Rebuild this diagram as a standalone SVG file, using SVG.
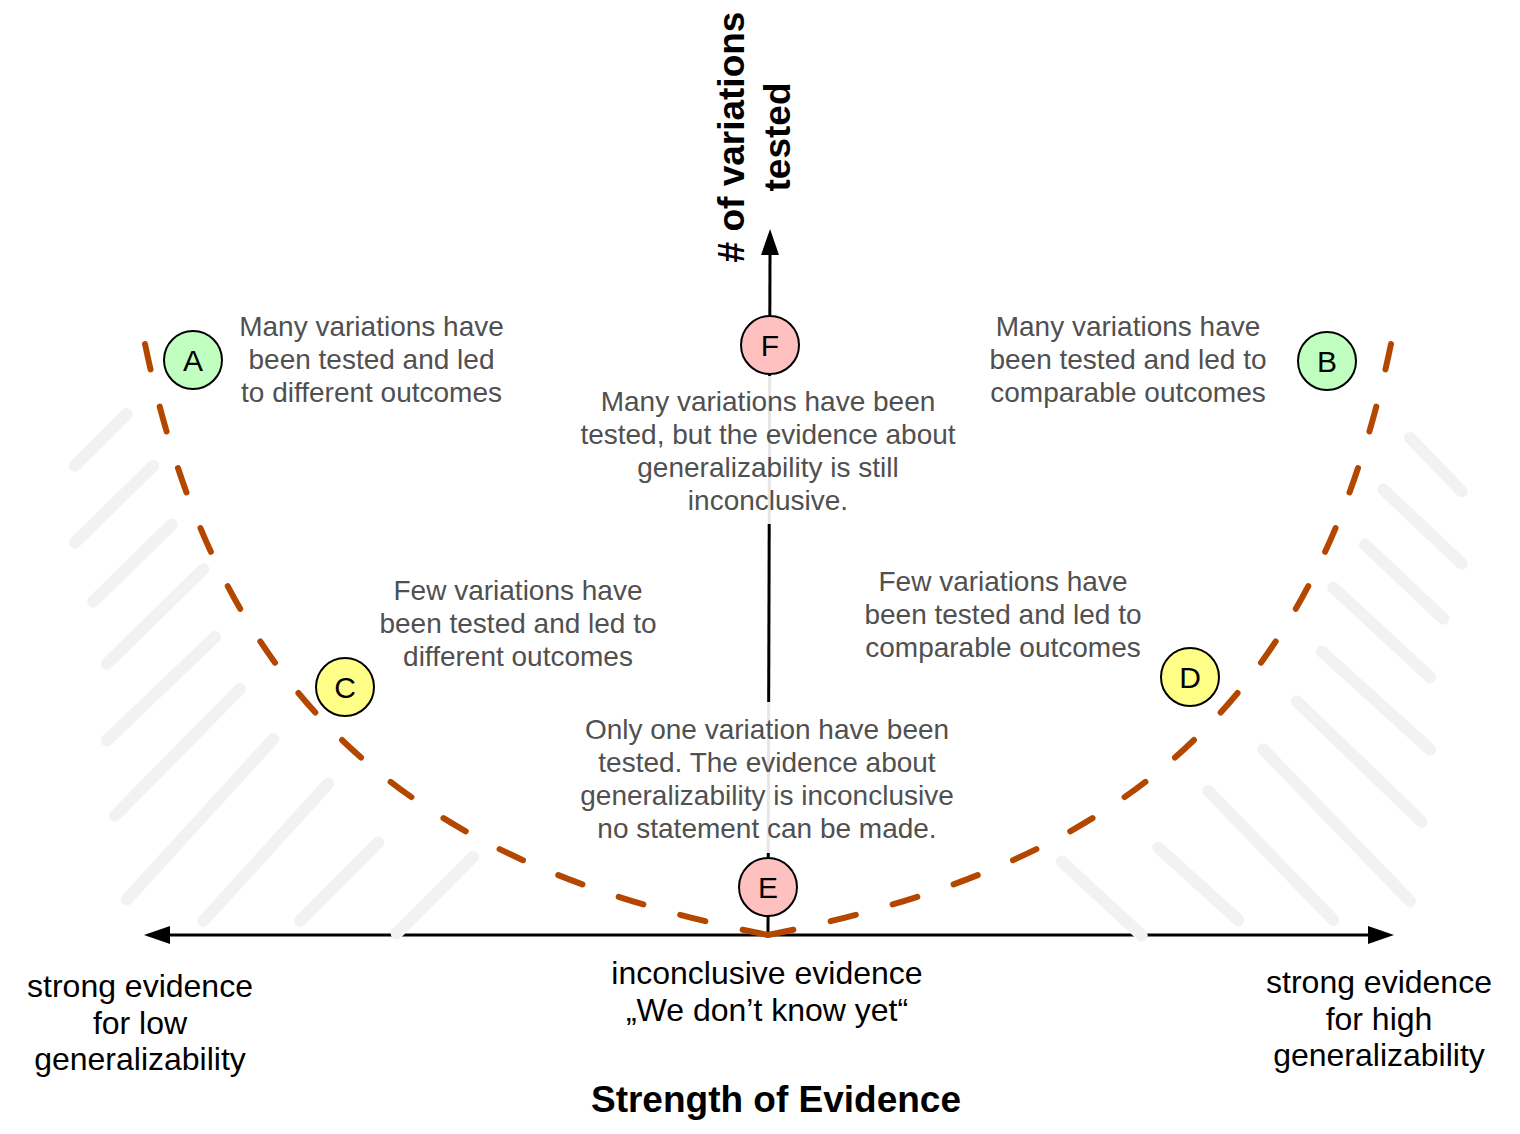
<svg xmlns="http://www.w3.org/2000/svg" width="1520" height="1134" viewBox="0 0 1520 1134">
<defs>
<style>
.hatch{stroke:#f2f2f2;stroke-width:12;stroke-linecap:round;fill:none}
.axis{stroke:#000;stroke-width:3;fill:none}
.curve{stroke:#b34700;stroke-width:6;stroke-linecap:round;fill:none;stroke-dasharray:26 38.5}
.node circle{stroke:#000;stroke-width:2}
.green{fill:#c0ffc0}
.yellow{fill:#ffff88}
.pink{fill:#ffc0c0}
.bg{fill:#fff;fill-opacity:0.9}
text{font-family:"Liberation Sans",Arial,Helvetica,sans-serif;text-anchor:middle}
.lbl{font-size:30px;fill:#000}
.desc{font-size:28px;fill:#505050}
.axislbl{font-size:32px;fill:#000}
.title{font-size:37px;font-weight:bold;fill:#000}
</style>
<marker id="arrow" viewBox="0 -9 26 18" markerWidth="26" markerHeight="18" refX="1" refY="0" orient="auto-start-reverse" markerUnits="userSpaceOnUse">
<path d="M0,-9 L26,0 L0,9 z" fill="#000"/>
</marker>
</defs>
<rect width="1520" height="1134" fill="#fff"/>

<g id="connectors">
<line id="x-axis" class="axis" x1="169" y1="935" x2="1369" y2="935" marker-start="url(#arrow)" marker-end="url(#arrow)"/>
<line id="y-axis" class="axis" x1="768" y1="935" x2="770" y2="254" marker-end="url(#arrow)"/>
<path id="curve-left" class="curve" pathLength="929" d="M145,344 C222.8,720 428,867 768,935"/>
<path id="curve-right" class="curve" pathLength="929" d="M1391,344 C1313.2,720 1108,867 768,935"/>
</g>

<g id="hatch-left">
<line class="hatch" x1="126.7" y1="413.9" x2="75" y2="465.7"/>
<line class="hatch" x1="153.3" y1="465.7" x2="75" y2="542.5"/>
<line class="hatch" x1="171.7" y1="524.6" x2="93.3" y2="601.4"/>
<line class="hatch" x1="203.3" y1="569.3" x2="106.7" y2="663.9"/>
<line class="hatch" x1="215" y1="637" x2="106.7" y2="740.7"/>
<line class="hatch" x1="240" y1="689" x2="115" y2="815.7"/>
<line class="hatch" x1="273.3" y1="739" x2="126.7" y2="899.6"/>
<line class="hatch" x1="328.3" y1="783.6" x2="203.3" y2="921"/>
<line class="hatch" x1="378.3" y1="842.5" x2="300" y2="921"/>
<line class="hatch" x1="473.3" y1="856.8" x2="396.7" y2="933.6"/>
</g>
<g id="hatch-right">
<line class="hatch" x1="1410" y1="437.9" x2="1461.7" y2="491.3"/>
<line class="hatch" x1="1383.3" y1="489.5" x2="1461.7" y2="563.6"/>
<line class="hatch" x1="1365" y1="544.6" x2="1443.3" y2="618.7"/>
<line class="hatch" x1="1333.3" y1="587.7" x2="1430" y2="677.2"/>
<line class="hatch" x1="1321.7" y1="651.4" x2="1430" y2="749.5"/>
<line class="hatch" x1="1296.7" y1="701.3" x2="1421.7" y2="821.8"/>
<line class="hatch" x1="1263.3" y1="749.5" x2="1410" y2="901"/>
<line class="hatch" x1="1208.3" y1="790.8" x2="1333.3" y2="920"/>
<line class="hatch" x1="1158.3" y1="847.7" x2="1238.3" y2="920"/>
<line class="hatch" x1="1061.7" y1="861.4" x2="1141.7" y2="935.5"/>
</g>

<g id="text-F">
<rect class="bg" x="568" y="376" width="400" height="148"/>
<text class="desc" x="768" y="411">Many variations have been<tspan x="768" dy="33">tested, but the evidence about</tspan><tspan x="768" dy="33">generalizability is still</tspan><tspan x="768" dy="33">inconclusive.</tspan></text>
</g>
<g id="text-E">
<rect class="bg" x="568" y="702" width="400" height="151"/>
<text class="desc" x="767" y="739">Only one variation have been<tspan x="767" dy="33">tested. The evidence about</tspan><tspan x="767" dy="33">generalizability is inconclusive</tspan><tspan x="767" dy="33">no statement can be made.</tspan></text>
</g>
<g id="text-A">
<text class="desc" x="371.5" y="336">Many variations have<tspan x="371.5" dy="33">been tested and led</tspan><tspan x="371.5" dy="33">to different outcomes</tspan></text>
</g>
<g id="text-B">
<text class="desc" x="1128" y="336">Many variations have<tspan x="1128" dy="33">been tested and led to</tspan><tspan x="1128" dy="33">comparable outcomes</tspan></text>
</g>
<g id="text-C">
<text class="desc" x="518" y="600">Few variations have<tspan x="518" dy="33">been tested and led to</tspan><tspan x="518" dy="33">different outcomes</tspan></text>
</g>
<g id="text-D">
<text class="desc" x="1003" y="591">Few variations have<tspan x="1003" dy="33">been tested and led to</tspan><tspan x="1003" dy="33">comparable outcomes</tspan></text>
</g>

<g id="node-A" class="node"><circle class="green" cx="193" cy="360" r="29"/><text class="lbl" x="193" y="371">A</text></g>
<g id="node-B" class="node"><circle class="green" cx="1327" cy="361" r="29"/><text class="lbl" x="1327" y="372">B</text></g>
<g id="node-C" class="node"><circle class="yellow" cx="345" cy="687" r="29"/><text class="lbl" x="345" y="698">C</text></g>
<g id="node-D" class="node"><circle class="yellow" cx="1190" cy="677" r="29"/><text class="lbl" x="1190" y="688">D</text></g>
<g id="node-E" class="node"><circle class="pink" cx="768" cy="887" r="29"/><text class="lbl" x="768" y="898">E</text></g>
<g id="node-F" class="node"><circle class="pink" cx="770" cy="345" r="29"/><text class="lbl" x="770" y="356">F</text></g>

<g id="axis-labels">
<text class="axislbl" x="140" y="997">strong evidence<tspan x="140" dy="36.5">for low</tspan><tspan x="140" dy="36.5">generalizability</tspan></text>
<text class="axislbl" x="1379" y="993">strong evidence<tspan x="1379" dy="36.5">for high</tspan><tspan x="1379" dy="36.5">generalizability</tspan></text>
<text class="axislbl" x="767" y="984">inconclusive evidence<tspan x="767" dy="37">„We don’t know yet“</tspan></text>
<text class="title" x="776" y="1112">Strength of Evidence</text>
<text class="title" transform="translate(744,137) rotate(-90)" x="0" y="0"># of variations<tspan x="0" dy="46">tested</tspan></text>
</g>
</svg>
